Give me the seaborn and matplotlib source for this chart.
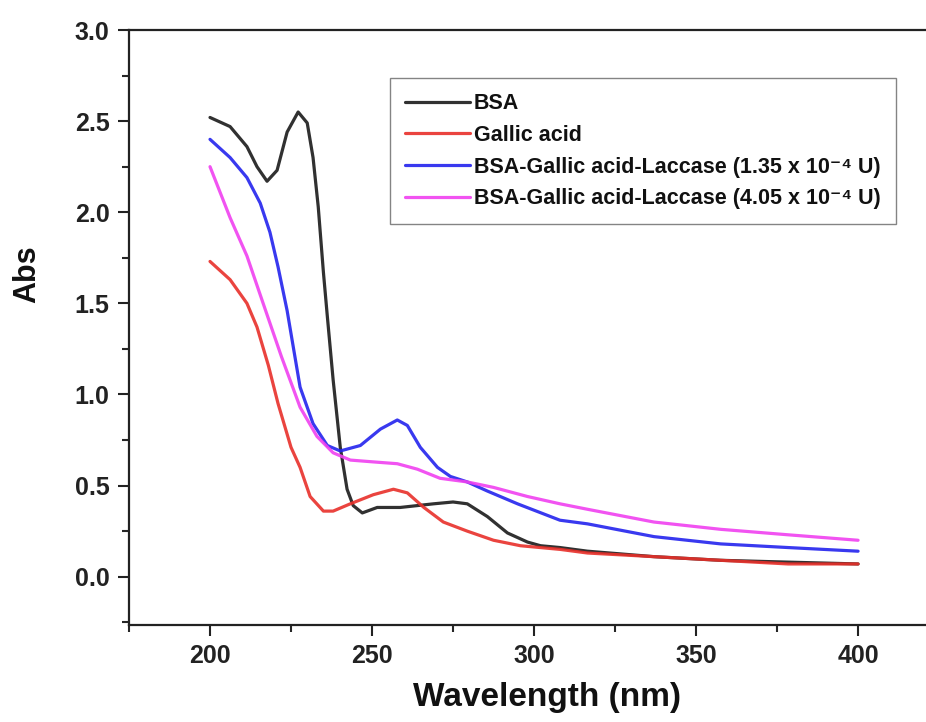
import numpy as np
import pandas as pd
import matplotlib
matplotlib.use("Agg")
import matplotlib.pyplot as plt
from matplotlib.ticker import MultipleLocator, FormatStrFormatter
import seaborn as sns

# ---- data ----
bsa_wl = [200, 206.2, 211.4, 214.5, 217.6, 220.7, 223.8, 227.2, 230, 231.8, 233.4, 235, 236.2, 238, 240.2, 242.3,
          244.2, 247, 251.6, 258.7, 269, 275, 279.4, 285.6, 291.8, 298, 302, 308, 316.5, 337, 357.6, 378.4, 400]
bsa_abs = [2.52, 2.47, 2.36, 2.25, 2.17, 2.23, 2.44, 2.55, 2.49, 2.30, 2.03, 1.67, 1.43, 1.08, 0.71, 0.48,
           0.39, 0.35, 0.38, 0.38, 0.40, 0.41, 0.40, 0.33, 0.24, 0.19, 0.17, 0.16, 0.14, 0.11, 0.09, 0.08, 0.07]

ga_wl = [200, 206.2, 211.4, 214.5, 218, 221, 225, 227.8, 230.9, 235, 238, 243.3, 250.4, 256.6, 260.9, 266,
         272, 279.4, 287.5, 295.8, 308, 316.5, 337, 357.6, 378.4, 400]
ga_abs = [1.73, 1.63, 1.50, 1.37, 1.16, 0.95, 0.71, 0.60, 0.44, 0.36, 0.36, 0.40, 0.45, 0.48, 0.46, 0.38,
          0.30, 0.25, 0.20, 0.17, 0.15, 0.13, 0.11, 0.09, 0.07, 0.07]

lac1_wl = [200, 206.2, 211.4, 215.5, 218.5, 221, 223.8, 227.8, 231.8, 236.2, 240.2, 246.4, 252.6, 257.8, 260.9,
           264.9, 270.2, 274.2, 279.4, 285.6, 294.9, 308, 316.5, 337, 357.6, 378.4, 400]
lac1_abs = [2.40, 2.30, 2.19, 2.05, 1.89, 1.70, 1.46, 1.04, 0.84, 0.72, 0.69, 0.72, 0.81, 0.86, 0.83,
            0.71, 0.60, 0.55, 0.52, 0.47, 0.40, 0.31, 0.29, 0.22, 0.18, 0.16, 0.14]

lac2_wl = [200, 206.2, 211.4, 216.4, 222, 227.8, 233, 238, 243.3, 250.4, 257.8, 264, 271, 279.4, 287.5, 298,
           308, 316.5, 337, 357.6, 378.4, 400]
lac2_abs = [2.25, 1.97, 1.76, 1.50, 1.21, 0.93, 0.77, 0.68, 0.64, 0.63, 0.62, 0.59, 0.54, 0.52, 0.49, 0.44,
            0.40, 0.37, 0.30, 0.26, 0.23, 0.20]

labels = ["BSA", "Gallic acid",
          "BSA-Gallic acid-Laccase (1.35 x 10\u207b\u2074 U)",
          "BSA-Gallic acid-Laccase (4.05 x 10\u207b\u2074 U)"]
colors = ["#1a1a1a", "#e8302a", "#2323ee", "#f040f0"]

frames = []
for wl, ab, lab in zip([bsa_wl, ga_wl, lac1_wl, lac2_wl], [bsa_abs, ga_abs, lac1_abs, lac2_abs], labels):
    frames.append(pd.DataFrame({"Wavelength": wl, "Abs": ab, "Sample": lab}))
df = pd.concat(frames, ignore_index=True)

sns.set_style("white")
plt.rcParams["font.family"] = ["Liberation Sans", "DejaVu Sans"]
plt.rcParams["font.weight"] = "bold"

fig = plt.figure(figsize=(9.26, 7.22), dpi=100)
ax = fig.add_axes([129 / 926, 1 - 625 / 722, (965 - 129) / 926, (625 - 30) / 722])

sns.lineplot(data=df, x="Wavelength", y="Abs", hue="Sample", hue_order=labels,
             palette=colors, linewidth=2.3, ax=ax, sort=True, estimator=None, alpha=0.9)
for ln in ax.lines:
    ln.set_solid_joinstyle("round")

ax.set_xlim(175, 433)
ax.set_ylim(-0.265, 3.0)
ax.xaxis.set_major_locator(MultipleLocator(50))
ax.xaxis.set_minor_locator(MultipleLocator(25))
ax.yaxis.set_major_locator(MultipleLocator(0.5))
ax.yaxis.set_minor_locator(MultipleLocator(0.25))
ax.xaxis.set_major_formatter(FormatStrFormatter("%d"))
ax.yaxis.set_major_formatter(FormatStrFormatter("%.1f"))

for side in ["left", "bottom", "top"]:
    ax.spines[side].set_visible(True)
    ax.spines[side].set_color("#222222")
    ax.spines[side].set_linewidth(1.6)
ax.spines["right"].set_visible(False)

ax.tick_params(axis="both", which="major", direction="out", length=8, width=1.5,
               labelsize=18, colors="#222222", bottom=True, left=True, top=False, right=False, pad=6)
ax.tick_params(axis="both", which="minor", direction="out", length=5, width=1.5,
               bottom=True, left=True, top=False, right=False)
for t in ax.get_xticklabels() + ax.get_yticklabels():
    t.set_fontweight("bold")

ax.set_xlabel("Wavelength (nm)", fontsize=24, fontweight="bold", labelpad=10, color="#111111")
ax.set_ylabel("Abs", fontsize=22, fontweight="bold", color="#111111")
ax.yaxis.set_label_coords((42 - 129) / (965 - 129), (625 - 274) / (625 - 30))

leg = ax.legend(loc="upper left", bbox_to_anchor=((390 - 129) / (965 - 129), (625 - 78) / (625 - 30)),
                frameon=True, fancybox=False, edgecolor="#666666", fontsize=15.5, handlelength=3.0,
                labelspacing=0.5, borderpad=0.7, handletextpad=0.2, borderaxespad=0)
leg.get_frame().set_linewidth(1.0)
for t in leg.get_texts():
    t.set_fontweight("bold")
    t.set_color("#111111")

fig.savefig("out.png", dpi=100)
